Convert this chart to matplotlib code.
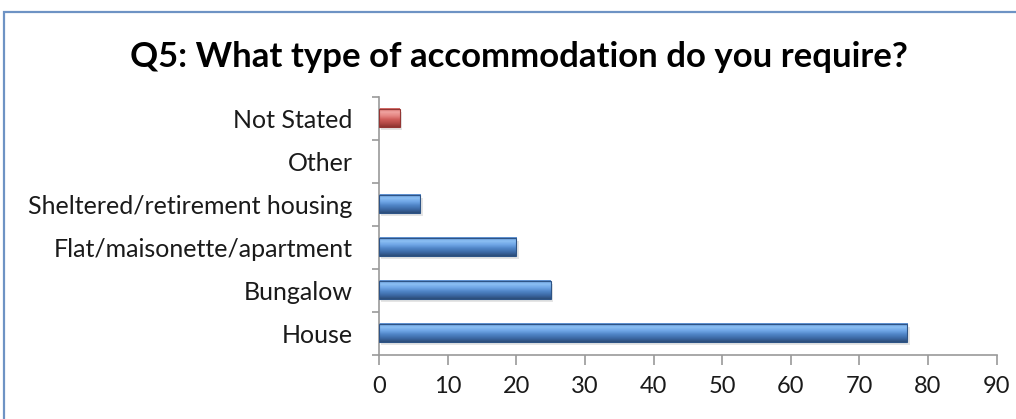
import matplotlib
matplotlib.use("Agg")
import matplotlib.pyplot as plt
import numpy as np
from matplotlib.colors import LinearSegmentedColormap
from matplotlib.patches import Rectangle

categories = ["House", "Bungalow", "Flat/maisonette/apartment",
              "Sheltered/retirement housing", "Other", "Not Stated"]
values = [77, 25, 20, 6, 0, 3]
bar_colors = ["blue", "blue", "blue", "blue", "blue", "red"]
x_ticks = list(range(0, 100, 10))

plt.rcParams["font.family"] = ["Lato", "DejaVu Sans"]

fig = plt.figure(figsize=(10.16, 4.19), dpi=100)
ax = fig.add_axes([0.373, 0.153, 0.608, 0.616])

# outer chart frame (only top/left visible in reference)
fig.patches.append(Rectangle((0.004, -0.1), 1.2, 0.1 + 1 - 12 / 419,
                             transform=fig.transFigure, fill=False,
                             edgecolor="#6E93C4", linewidth=1.6))

ramps = {
    "blue": LinearSegmentedColormap.from_list(
        "b", ["#2B4C78", "#3D6AA6", "#4F84C6", "#6FA6E6", "#8CC0F4", "#5C8ED0"]),
    "red": LinearSegmentedColormap.from_list(
        "r", ["#8E3330", "#B44A47", "#CF5D5A", "#E58784", "#F0A3A0", "#D06662"]),
}
edge = {"blue": "#2E5486", "red": "#943634"}

bars = ax.barh(range(len(categories)), values, height=0.42, color="none",
               edgecolor="none")
grad = np.linspace(0, 1, 64).reshape(-1, 1)
for b, c in zip(bars, bar_colors):
    w = b.get_width()
    if w <= 0:
        continue
    x0, y0, h = b.get_x(), b.get_y(), b.get_height()
    # soft shadow
    ax.add_patch(Rectangle((x0 + 0.35, y0 - 0.07), w, h, facecolor="#000000",
                           alpha=0.10, edgecolor="none", zorder=1))
    ax.imshow(grad, cmap=ramps[c], aspect="auto", origin="lower",
              extent=(x0, x0 + w, y0, y0 + h), zorder=2, interpolation="bilinear")
    ax.add_patch(Rectangle((x0, y0), w, h, fill=False, edgecolor=edge[c],
                           linewidth=0.8, zorder=3))

ax.set_xlim(0, 90)
ax.set_ylim(-0.5, len(categories) - 0.5)
ax.set_xticks(x_ticks)
ax.set_yticks(range(len(categories)))
ax.set_yticklabels(categories)
ax.set_yticks(np.arange(-0.5, len(categories), 1.0), minor=True)

for s in ["top", "right"]:
    ax.spines[s].set_visible(False)
for s in ["left", "bottom"]:
    ax.spines[s].set_color("#9A9A9A")
    ax.spines[s].set_linewidth(1.2)

ax.tick_params(axis="y", which="major", length=0, pad=19, labelsize=18,
               labelcolor="#1A1A1A")
ax.tick_params(axis="y", which="minor", length=5, color="#9A9A9A", width=1.2)
ax.tick_params(axis="x", length=7, color="#9A9A9A", width=1.2, pad=8,
               labelsize=17, labelcolor="#1A1A1A")

fig.text(0.511, 0.864, "Q5: What type of accommodation do you require?",
         ha="center", va="center", fontsize=25, fontweight="bold")

fig.savefig("out.png", dpi=100)
plt.close(fig)
